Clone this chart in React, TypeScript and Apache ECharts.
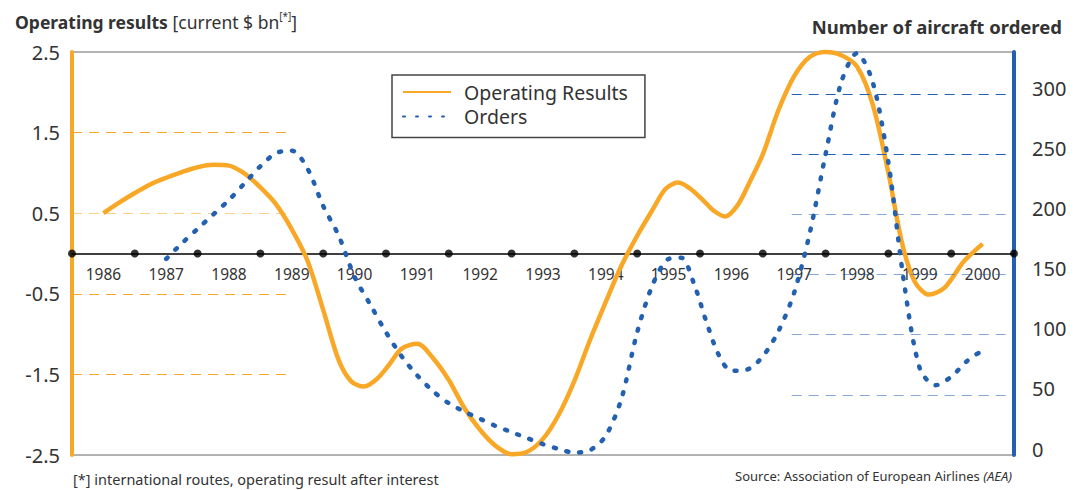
import React, { useEffect, useRef } from "react";
import * as echarts from "echarts";

const years = ["1986", "1987", "1988", "1989", "1990", "1991", "1992", "1993", "1994", "1995", "1996", "1997", "1998", "1999", "2000"];

// [year position, $ bn]
const operatingResults: [number, number][] = [
  [1986.0, 0.5], [1986.25, 0.63], [1986.5, 0.75], [1986.75, 0.86], [1987.0, 0.94], [1987.25, 1.01],
  [1987.5, 1.07], [1987.75, 1.1], [1988.0, 1.09], [1988.25, 0.99], [1988.5, 0.82], [1988.75, 0.61],
  [1989.0, 0.3], [1989.25, -0.09], [1989.5, -0.7], [1989.75, -1.33], [1989.95, -1.59], [1990.15, -1.65],
  [1990.35, -1.56], [1990.55, -1.38], [1990.75, -1.18], [1991.0, -1.12], [1991.25, -1.3], [1991.5, -1.57],
  [1991.75, -1.92], [1992.0, -2.19], [1992.25, -2.39], [1992.5, -2.49], [1992.75, -2.46], [1993.0, -2.3],
  [1993.25, -2.0], [1993.5, -1.58], [1993.75, -1.07], [1994.0, -0.6], [1994.25, -0.15], [1994.5, 0.22],
  [1994.75, 0.55], [1994.95, 0.8], [1995.15, 0.88], [1995.35, 0.8], [1995.55, 0.66], [1995.72, 0.53],
  [1995.9, 0.46], [1996.1, 0.6], [1996.3, 0.9], [1996.5, 1.23], [1996.75, 1.78], [1997.0, 2.2],
  [1997.25, 2.44], [1997.5, 2.5], [1997.75, 2.46], [1998.0, 2.32], [1998.25, 1.85], [1998.5, 1.0],
  [1998.72, 0.12], [1998.92, -0.35], [1999.15, -0.51], [1999.4, -0.42], [1999.7, -0.1], [2000.0, 0.12],
];

// [year position, aircraft ordered]
const orders: [number, number][] = [
  [1987.0, 163], [1987.25, 176], [1987.5, 188], [1987.75, 200], [1988.0, 212], [1988.25, 226],
  [1988.5, 240], [1988.75, 251], [1989.0, 253], [1989.25, 238], [1989.5, 207], [1989.75, 182],
  [1990.0, 148], [1990.25, 125], [1990.5, 102], [1990.75, 82], [1991.0, 66], [1991.25, 53],
  [1991.5, 43], [1991.75, 36], [1992.0, 30], [1992.25, 24], [1992.5, 19], [1992.75, 14],
  [1993.0, 9], [1993.25, 5], [1993.5, 2], [1993.75, 4], [1994.0, 16], [1994.25, 47],
  [1994.5, 102], [1994.75, 142], [1995.0, 163], [1995.2, 164], [1995.4, 143], [1995.6, 111],
  [1995.8, 83], [1996.0, 70], [1996.25, 71], [1996.5, 82], [1996.75, 103], [1997.0, 135],
  [1997.25, 185], [1997.5, 250], [1997.75, 310], [1998.0, 334], [1998.25, 310], [1998.5, 243],
  [1998.75, 143], [1999.0, 72], [1999.25, 58], [1999.5, 65], [1999.75, 78], [2000.0, 87],
];

const leftTicks = [2.5, 1.5, 0.5, -0.5, -1.5, -2.5];
const leftGuideLevels = [1.5, 0.5, -0.5, -1.5];
const rightGuideLevels = [300, 250, 200, 150, 100, 50];

const ORANGE = "#F8A826";
const BLUE = "#2360B0";
const TEXT = "#333";
const FONT = "'Noto Sans', 'Open Sans', sans-serif";

export default function App() {
  const ref = useRef<HTMLDivElement>(null);
  useEffect(() => {
    if (!ref.current) return;
    const chart = echarts.init(ref.current, undefined, { renderer: "svg" });
    const xMin = Number(years[0]) - 0.5;
    const xMax = Number(years[years.length - 1]) + 0.5;
    const boundaries = Array.from({ length: years.length + 1 }, (_, i) => [xMin + i, 0]);
    const leftGuideEnd = 1989.0;
    const rightGuideStart = 1996.96;

    chart.setOption({
      animation: false,
      textStyle: { fontFamily: FONT },
      grid: { left: 72, right: 64, top: 52, bottom: 35, show: true, borderColor: "#666", borderWidth: 1 },
      title: [
        {
          left: 10,
          top: 6,
          text: "{b|Operating results} {n|[current $ bn}{s|[*]}{n|]}",
          textStyle: {
            fontWeight: "normal",
            rich: {
              b: { fontSize: 17.5, fontWeight: "bold", color: TEXT, fontFamily: FONT, lineHeight: 22 },
              n: { fontSize: 17.5, fontWeight: "normal", color: TEXT, fontFamily: FONT, lineHeight: 22 },
              s: { fontSize: 10, fontWeight: "normal", color: TEXT, fontFamily: FONT, verticalAlign: "top", lineHeight: 12 },
            },
          },
        },
        {
          right: 11,
          top: 12,
          text: "Number of aircraft ordered",
          textStyle: { fontSize: 18.5, fontWeight: "bold", color: TEXT, fontFamily: FONT },
        },
      ],
      legend: {
        left: 392,
        top: 75,
        orient: "vertical",
        padding: [7, 17, 11, 10],
        itemGap: 4.5,
        itemWidth: 48,
        itemHeight: 17,
        borderColor: "#444",
        borderWidth: 1.5,
        backgroundColor: "#fff",
        itemStyle: { opacity: 0 },
        textStyle: { fontSize: 19.5, color: TEXT, fontFamily: FONT, padding: [0, 0, 0, 8] },
        data: ["Operating Results", "Orders"],
      },
      xAxis: [
        {
          type: "value",
          min: xMin,
          max: xMax,
          show: true,
          axisLine: { show: false, onZero: false },
          axisTick: { show: false },
          axisLabel: { show: false },
          splitLine: { show: false },
        },
        {
          type: "category",
          data: years,
          boundaryGap: true,
          position: "bottom",
          offset: -201.5,
          axisLine: { show: true, onZero: false, lineStyle: { color: "#000", width: 1.5 } },
          axisTick: { show: false },
          axisLabel: { color: TEXT, fontSize: 15.5, margin: 12, fontFamily: FONT },
          splitLine: { show: false },
        },
      ],
      yAxis: [
        {
          type: "value",
          min: -2.5,
          max: 2.5,
          interval: 1,
          position: "left",
          axisLine: { show: true, onZero: false, lineStyle: { color: ORANGE, width: 4 } },
          axisTick: { show: false },
          axisLabel: {
            color: TEXT,
            fontSize: 20,
            margin: 12,
            fontFamily: FONT,
            formatter: (v: number) => (leftTicks.includes(Math.round(v * 10) / 10) ? String(v) : ""),
          },
          splitLine: { show: false },
        },
        {
          type: "value",
          min: 0,
          max: 335,
          interval: 50,
          position: "right",
          axisLine: { show: true, onZero: false, lineStyle: { color: BLUE, width: 4 } },
          axisTick: { show: false },
          axisLabel: {
            color: TEXT,
            fontSize: 20,
            margin: 18,
            fontFamily: FONT,
            showMaxLabel: false,
            verticalAlign: "bottom",
            lineHeight: 12,
          },
          splitLine: { show: false },
        },
      ],
      series: [
        {
          name: "Operating Results",
          type: "line",
          xAxisIndex: 0,
          yAxisIndex: 0,
          data: operatingResults,
          smooth: 0.3,
          symbol: "none",
          clip: false,
          color: ORANGE,
          lineStyle: { color: ORANGE, width: 4.5 },
          z: 4,
          markLine: {
            silent: true,
            symbol: ["none", "none"],
            label: { show: false },
            lineStyle: { color: ORANGE, type: [10, 7], width: 1.2 },
            data: leftGuideLevels.map((v) => [
              { coord: [xMin, v], lineStyle: { color: ORANGE, type: [10, 7], width: 1.2, opacity: v === 0.5 ? 0.55 : 1 } },
              { coord: [leftGuideEnd, v] },
            ]),
          },
        },
        {
          name: "Orders",
          type: "line",
          xAxisIndex: 0,
          yAxisIndex: 1,
          data: orders,
          smooth: 0.3,
          symbol: "none",
          clip: false,
          color: BLUE,
          lineStyle: { color: BLUE, width: 4.5, type: [2, 11], cap: "round" },
          z: 5,
          markLine: {
            silent: true,
            symbol: ["none", "none"],
            label: { show: false },
            lineStyle: { color: BLUE, type: [10, 7], width: 1.2 },
            data: rightGuideLevels.map((v) => [
              { coord: [rightGuideStart, v], lineStyle: { color: BLUE, type: [10, 7], width: 1.2, opacity: v >= 250 ? 1 : 0.55 } },
              { coord: [xMax, v] },
            ]),
          },
        },
        {
          name: "boundaries",
          type: "scatter",
          xAxisIndex: 0,
          yAxisIndex: 0,
          data: boundaries,
          symbol: "circle",
          symbolSize: 8,
          clip: false,
          itemStyle: { color: "#000" },
          z: 6,
          silent: true,
        },
      ],
      graphic: [
        {
          type: "text",
          left: 73,
          top: 471,
          style: { text: "[*] international routes, operating result after interest", fontSize: 14.5, fontFamily: FONT, fill: TEXT },
        },
        {
          type: "text",
          right: 66,
          top: 469,
          style: {
            text: "Source: Association of European Airlines {i|(AEA)}",
            fontSize: 13,
            fontFamily: FONT,
            fill: TEXT,
            rich: { i: { fontStyle: "italic", fontSize: 13, fontFamily: FONT, fill: TEXT } },
          },
        },
      ],
    });
    return () => chart.dispose();
  }, []);
  return <div ref={ref} style={{ position: "fixed", left: 0, top: 0, width: 1078, height: 490, background: "#fff" }} />;
}
